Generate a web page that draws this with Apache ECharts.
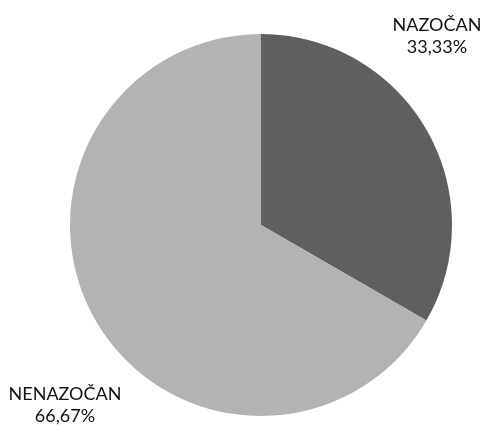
<!DOCTYPE html>
<html>
<head>
<meta charset="utf-8">
<script src="https://cdn.jsdelivr.net/npm/echarts@6/dist/echarts.min.js"></script>
<style>
  html, body { margin: 0; padding: 0; background: #fff; }
  #chart { width: 483px; height: 433px; }
</style>
</head>
<body>
<div id="chart"></div>
<script>
// podaci
const categories = ['NAZOČAN', 'NENAZOČAN'];
const values = [33.33, 66.67];
const percentLabels = ['33,33%', '66,67%'];
const colors = ['#5f5f5f', '#b3b3b3'];
// položaj oznaka (središte teksta)
const labelPos = [[437, 36], [65, 405]];

const chart = echarts.init(document.getElementById('chart'));
chart.setOption({
  animation: false,
  series: [{
    type: 'pie',
    center: [261, 225],
    radius: 191,
    startAngle: 90,
    clockwise: true,
    data: categories.map((c, i) => ({ name: c, value: values[i], itemStyle: { color: colors[i] } })),
    label: {
      show: true,
      position: 'inside',
      overflow: 'none',
      formatter: p => p.name + '\n' + percentLabels[p.dataIndex],
      fontFamily: 'Lato',
      fontSize: 18,
      lineHeight: 22,
      color: '#111',
      align: 'center'
    },
    labelLine: { show: false },
    labelLayout: p => ({
      x: labelPos[p.dataIndex][0],
      y: labelPos[p.dataIndex][1],
      align: 'center',
      verticalAlign: 'middle',
      hideOverlap: false
    }),
    emphasis: { disabled: true }
  }]
});
</script>
</body>
</html>
